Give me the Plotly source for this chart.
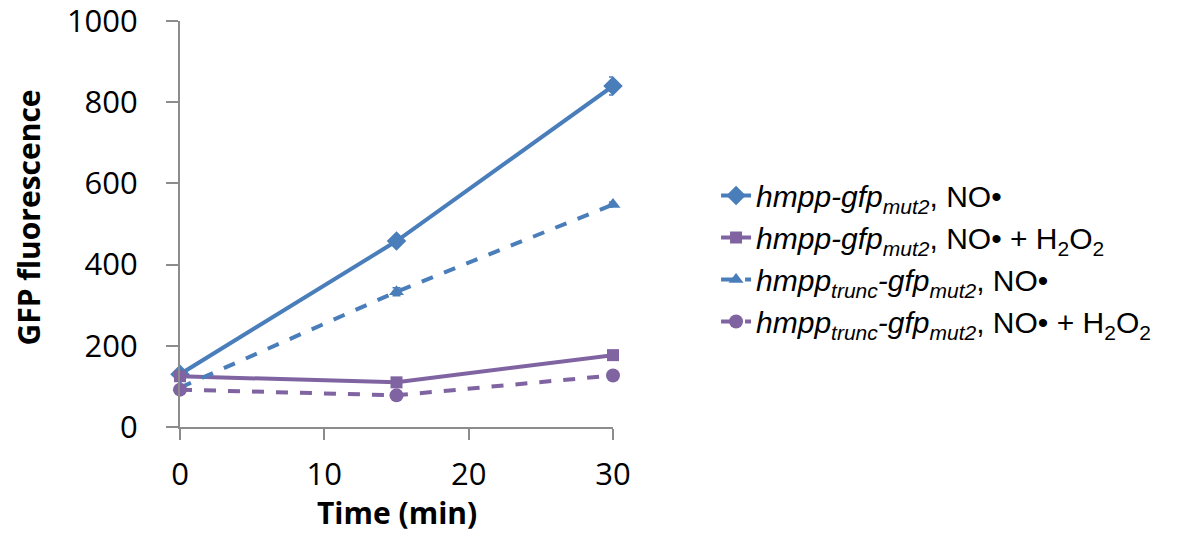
import plotly.graph_objects as go

time = [0, 15, 30]
s1 = [130, 458, 840]
s1_err = [8, 8, 22]
s2 = [125, 110, 177]
s2_err = [5, 6, 6]
s3 = [97, 333, 548]
s3_err = [5, 10, 6]
s4 = [92, 78, 127]
s4_err = [4, 5, 5]

names = [
    "<i>hmpp-gfp<sub>mut2</sub></i>, NO•",
    "<i>hmpp-gfp<sub>mut2</sub></i>, NO• + H<sub>2</sub>O<sub>2</sub>",
    "<i>hmpp<sub>trunc</sub>-gfp<sub>mut2</sub></i>, NO•",
    "<i>hmpp<sub>trunc</sub>-gfp<sub>mut2</sub></i>, NO• + H<sub>2</sub>O<sub>2</sub>",
]
x_title = "Time (min)"
y_title = "GFP fluorescence"
blue = "#4A7EBB"
purple = "#8064A2"

fig = go.Figure()
specs = [
    (s1, s1_err, blue, "solid", "diamond", 15),
    (s2, s2_err, purple, "solid", "square", 12),
    (s3, s3_err, blue, "dash", "triangle-up", 13),
    (s4, s4_err, purple, "dash", "circle", 14),
]
for i, (ys, err, col, dash, sym, msz) in enumerate(specs):
    fig.add_trace(go.Scatter(
        x=time, y=ys, name=names[i], mode="lines+markers",
        line=dict(color=col, width=4, dash=dash),
        marker=dict(symbol=sym, size=msz, color=col),
        error_y=dict(type="data", array=err, color=col, thickness=1.5, width=4),
        cliponaxis=False,
    ))

fig.update_layout(
    width=1177, height=548,
    margin=dict(l=180, r=564, t=21, b=121),
    paper_bgcolor="white", plot_bgcolor="white",
    font=dict(family="Open Sans", color="#000000"),
    showlegend=True,
    legend=dict(
        x=1.238, xanchor="left", y=0.415, yanchor="middle",
        font=dict(family="Liberation Sans", size=30, color="#000000"),
        tracegroupgap=0, itemwidth=30,
        bgcolor="rgba(0,0,0,0)",
    ),
    xaxis=dict(
        range=[0, 30], tickvals=[0, 10, 20, 30], automargin=False,
        showline=True, linecolor="#8C8C8C", linewidth=2,
        ticks="outside", ticklen=11, tickwidth=2, tickcolor="#8C8C8C",
        showgrid=False, zeroline=False, ticklabelstandoff=8,
        ticklabeloverflow="allow",
        tickfont=dict(family="Open Sans", size=31),
    ),
    yaxis=dict(
        range=[0, 1000], tickvals=[0, 200, 400, 600, 800, 1000], automargin=False,
        showline=True, linecolor="#8C8C8C", linewidth=2,
        ticks="outside", ticklen=12, tickwidth=2, tickcolor="#8C8C8C",
        showgrid=False, zeroline=False, ticklabelstandoff=22,
        ticklabeloverflow="allow",
        tickfont=dict(family="Open Sans", size=31),
    ),
    annotations=[
        dict(text=f"<b>{x_title}</b>", xref="paper", yref="paper", x=0.5, y=-0.21,
             xanchor="center", yanchor="middle", showarrow=False,
             font=dict(family="Open Sans", size=30, color="#000000")),
        dict(text=f"<b>{y_title}</b>", xref="paper", yref="paper", x=-0.35, y=0.517,
             xanchor="center", yanchor="middle", showarrow=False, textangle=-90,
             font=dict(family="Open Sans", size=30, color="#000000")),
    ],
)

fig.write_html("out.html")
